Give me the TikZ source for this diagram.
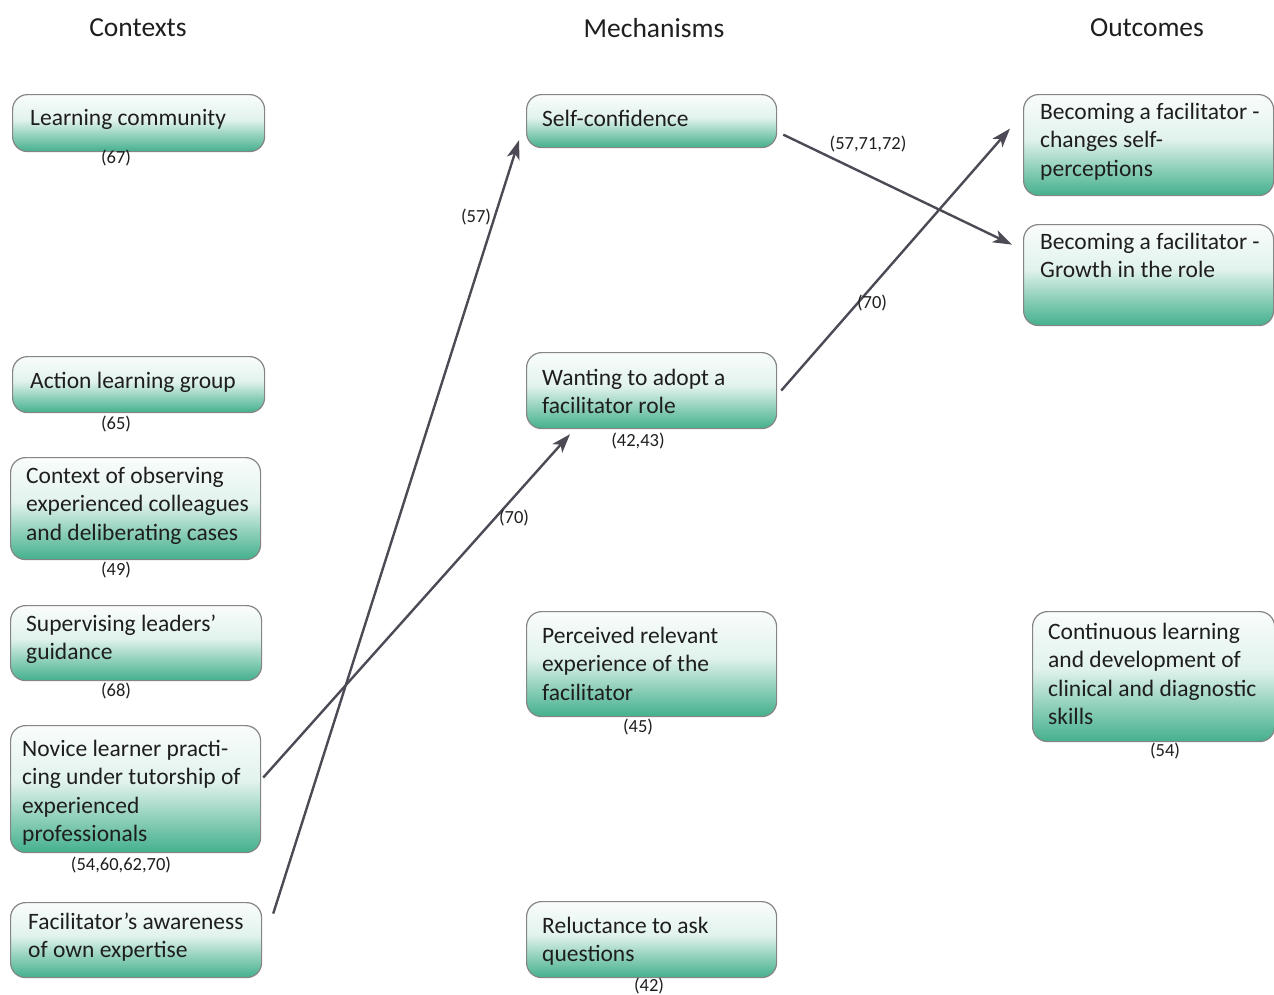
\documentclass[tikz,border=0pt]{standalone}
\usepackage{fontspec}
\setmainfont{Carlito}
\usetikzlibrary{arrows.meta,calc}

\definecolor{boxgreen}{HTML}{44B08D}
\definecolor{boxline}{HTML}{858585}
\definecolor{arrowgray}{HTML}{4E4A55}
\definecolor{inktext}{HTML}{1E1E1E}

% white at the top, fading into green towards the bottom edge
\pgfdeclareverticalshading{boxfade}{100bp}{%
  color(0bp)=(boxgreen); color(25bp)=(boxgreen);
  color(38bp)=(boxgreen!62!white); color(53bp)=(boxgreen!16!white);
  color(75bp)=(boxgreen!3!white); color(100bp)=(boxgreen!3!white)}

% lines of a box text, with the first line's baseline as the node's base
\newcommand{\boxlines}[1]{\begin{tabular}[t]{@{}l@{}}#1\end{tabular}}

\tikzset{
  cbox/.style={anchor=north west, shading=boxfade, draw=boxline, line width=1.2pt,
               rounded corners=15pt, inner sep=0pt},
  boxtext/.style={anchor=base west, inner sep=0pt, text=inktext,
                  font=\fontsize{23.5}{28.5}\selectfont},
  ref/.style={inner sep=0pt, text=inktext, font=\fontsize{18.5}{22}\selectfont},
  head/.style={inner sep=0pt, text=inktext, font=\fontsize{27.5}{32}\selectfont},
  link/.style={draw=arrowgray, line width=2.4pt,
               -{Stealth[length=19pt,width=13pt,inset=5pt]}}
}

\begin{document}
\begin{tikzpicture}[x=1pt,y=-1pt]
\useasboundingbox (0,0) rectangle (1274,994);

% column headings
\node[head] (hc) at (138,28) {Contexts};
\node[head] (hm) at (654,28) {Mechanisms};
\node[head] (ho) at (1147,28) {Outcomes};

% contexts
\node[cbox, minimum width=252pt, minimum height=57pt] (lc) at (12,94) {};
\node[boxtext] (lct) at (30,125) {\boxlines{Learning community}};
\node[ref] (lcr) at (116,158) {(67)};

\node[cbox, minimum width=252pt, minimum height=56pt] (alg) at (12,356) {};
\node[boxtext] (algt) at (30,388) {\boxlines{Action learning group}};
\node[ref] (algr) at (116,424) {(65)};

\node[cbox, minimum width=250pt, minimum height=102pt] (ctx) at (10,457) {};
\node[boxtext] (ctxt) at (26,483) {\boxlines{Context of observing\\experienced colleagues\\and deliberating cases}};
\node[ref] (ctxr) at (116,570) {(49)};

\node[cbox, minimum width=251pt, minimum height=75pt] (sup) at (10,605) {};
\node[boxtext] (supt) at (26,631) {\boxlines{Supervising leaders’\\guidance}};
\node[ref] (supr) at (116,691) {(68)};

\node[cbox, minimum width=250pt, minimum height=127pt] (nov) at (10,725) {};
\node[boxtext] (novt) at (22,756) {\boxlines{Novice learner practi-\\cing under tutorship of\\experienced\\professionals}};
\node[ref] (novr) at (121,865) {(54,60,62,70)};

\node[cbox, minimum width=251pt, minimum height=75pt] (fac) at (10,902) {};
\node[boxtext] (fact) at (28,929) {\boxlines{Facilitator’s awareness\\of own expertise}};

% mechanisms
\node[cbox, minimum width=250pt, minimum height=53pt] (sc) at (526,94) {};
\node[boxtext] (sct) at (542,126) {\boxlines{Self-confidence}};

\node[cbox, minimum width=250pt, minimum height=76pt] (want) at (526,352) {};
\node[boxtext] (wantt) at (542,385) {\boxlines{Wanting to adopt a\\facilitator role}};
\node[ref] (wantr) at (638,441) {(42,43)};

\node[cbox, minimum width=250pt, minimum height=105pt] (perc) at (526,611) {};
\node[boxtext] (perct) at (542,643) {\boxlines{Perceived relevant\\experience of the\\facilitator}};
\node[ref] (percr) at (638,727) {(45)};

\node[cbox, minimum width=250pt, minimum height=76pt] (rel) at (526,901) {};
\node[boxtext] (relt) at (542,933) {\boxlines{Reluctance to ask\\questions}};
\node[ref] (relr) at (649,986) {(42)};

% outcomes
\node[cbox, minimum width=250pt, minimum height=101pt] (bc1) at (1023,94) {};
\node[boxtext] (bc1t) at (1040,119) {\boxlines{Becoming a facilitator -\\changes self-\\perceptions}};

\node[cbox, minimum width=250pt, minimum height=101pt] (bc2) at (1023,224) {};
\node[boxtext] (bc2t) at (1040,249) {\boxlines{Becoming a facilitator -\\Growth in the role}};

\node[cbox, minimum width=242pt, minimum height=130pt] (cont) at (1032,611) {};
\node[boxtext] (contt) at (1048,639) {\boxlines{Continuous learning\\and development of\\clinical and diagnostic\\skills}};
\node[ref] (contr) at (1165,751) {(54)};

% links between contexts, mechanisms and outcomes
\draw[link] ($(fac.east)+(11,-26.5)$) -- ($(sc.south west)+(-7,-8)$);
\draw[link] ($(nov.east)+(2,-11.5)$) -- ($(want.south west)+(44,5)$);
\draw[link] ($(sc.east)+(6,13.5)$) -- ($(bc2.west)+(-11,-30.5)$);
\draw[link] ($(want.east)+(4,0)$) -- ($(bc1.west)+(-13,-16.5)$);

% link references
\node[ref] (l57) at (476,217) {(57)};
\node[ref] (l70a) at (514,518) {(70)};
\node[ref] (l577172) at (868,144) {(57,71,72)};
\node[ref] (l70b) at (872,303) {(70)};
\end{tikzpicture}
\end{document}
